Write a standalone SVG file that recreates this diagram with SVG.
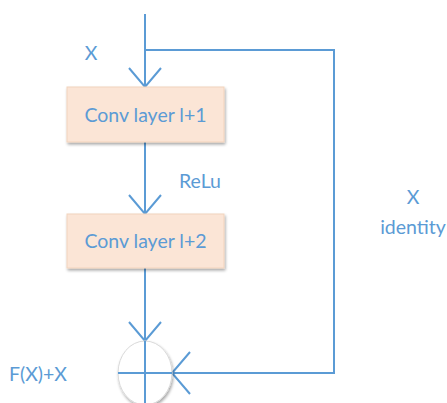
<svg xmlns="http://www.w3.org/2000/svg" width="447" height="403" viewBox="0 0 447 403">
<defs>
<style>
.ln{stroke:#5b9bd5;stroke-width:2;fill:none}
.t{font-family:Lato,"Liberation Sans",sans-serif;font-size:19.5px;fill:#5b9bd5}
.box{fill:#fbe5d6;stroke:#f2d3bd;stroke-width:1}
</style>
<filter id="sh" x="-20%" y="-20%" width="140%" height="150%">
<feGaussianBlur in="SourceAlpha" stdDeviation="1.5"/>
<feOffset dx="1" dy="2" result="b"/>
<feComponentTransfer><feFuncA type="linear" slope="0.35"/></feComponentTransfer>
<feMerge><feMergeNode/><feMergeNode in="SourceGraphic"/></feMerge>
</filter>
</defs>
<rect width="447" height="403" fill="#fff"/>
<g id="connectors">
<path class="ln" d="M145 14 V87"/>
<path class="ln" d="M129 68 L145 87 L161 68"/>
<path class="ln" d="M145 50 H334 V373 H172"/>
<path class="ln" d="M145 142 V214"/>
<path class="ln" d="M129 195 L145 214 L161 195"/>
<path class="ln" d="M145 268 V340"/>
<path class="ln" d="M129 322 L145 341 L161 322"/>
<path class="ln" d="M190 352 L172 373 L190 394"/>
</g>
<g id="conv1">
<rect class="box" x="67" y="87" width="157" height="55" filter="url(#sh)"/>
<text class="t" x="145.5" y="122" text-anchor="middle">Conv layer l+1</text>
</g>
<g id="conv2">
<rect class="box" x="67" y="214" width="157" height="54" filter="url(#sh)"/>
<text class="t" x="145.5" y="248" text-anchor="middle">Conv layer l+2</text>
</g>
<g id="sum">
<ellipse cx="145" cy="373" rx="27" ry="32" fill="#fff" stroke="#d9d9d9" stroke-width="1" filter="url(#sh)"/>
<path class="ln" d="M118 373 H172 M145 341 V403"/>
</g>
<g id="labels">
<text class="t" x="91" y="60" text-anchor="middle">X</text>
<text class="t" x="200" y="188" text-anchor="middle">ReLu</text>
<text class="t" x="413" y="204" text-anchor="middle">X</text>
<text class="t" x="413" y="234" text-anchor="middle">identity</text>
<text class="t" x="38" y="381" text-anchor="middle">F(X)+X</text>
</g>
</svg>
